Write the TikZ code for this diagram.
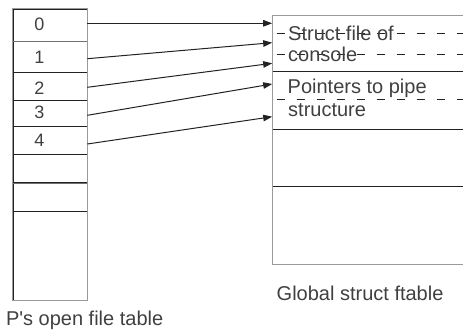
\documentclass[tikz,border=0pt]{standalone}
\usepackage{fontspec}
\setmainfont{Liberation Sans}
\newfontfamily\lfont{Liberation Sans}
\usetikzlibrary{arrows.meta}
\definecolor{txt}{HTML}{404040}
\definecolor{bord}{HTML}{9A9A9A}
\definecolor{sep}{HTML}{222222}
\definecolor{sepl}{HTML}{707070}
\begin{document}
\begin{tikzpicture}[x=1pt,y=-1pt,
  cellL/.style={draw=sep,line width=1pt,inner sep=0pt,minimum width=74pt},
  cellR/.style={draw=sep,line width=1pt,inner sep=0pt,minimum width=197.3pt},
  frame/.style={draw=bord,line width=1pt},
  digit/.style={anchor=base,inner sep=0pt,text=txt,font=\lfont\fontsize{18pt}{20pt}\selectfont},
  lbl/.style={anchor=base west,inner sep=0pt,text=txt,font=\lfont\fontsize{20pt}{22pt}\selectfont},
  dashline/.style={draw=sep,line width=1pt,dash pattern=on 8pt off 12pt,dash phase=16pt},
  ptr/.style={draw=sep,line width=1pt,-{Triangle[length=9pt,width=6.5pt]}}]
\useasboundingbox (0,0) rectangle (463,330);
\begin{scope}
\clip (0,0) rectangle (463,330);
% left table cells
\node[cellL,minimum height=32.3pt] (l0) at (50.3,25.15) {};
\node[cellL,minimum height=31.4pt] (l1) at (50.3,57.0) {};
\node[cellL,minimum height=28pt] (l2) at (50.3,86.7) {};
\node[cellL,minimum height=25.3pt] (l3) at (50.3,113.35) {};
\node[cellL,minimum height=28.3pt] (l4) at (50.3,140.15) {};
\node[cellL,minimum height=28.4pt] (l5) at (50.3,168.5) {};
\node[cellL,minimum height=28.3pt] (l6) at (50.3,196.85) {};
\node[cellL,minimum height=89pt] (l7) at (50.3,255.5) {};
\draw[sepl,line width=1pt] (l5.south west) -- (l5.south east);
\draw[sepl,line width=1pt] (l0.south west) -- (l0.south east);
\draw[frame] (l0.north west) rectangle (l7.south east);
% digits
\node[digit] (d0) at (39.3,30) {0};
\node[digit] (d1) at (39.3,63.3) {1};
\node[digit] (d2) at (39.3,94.3) {2};
\node[digit] (d3) at (39.3,118.3) {3};
\node[digit] (d4) at (39.3,146.7) {4};
% right table cells
\node[cellR,minimum height=56pt] (r0) at (371.35,43.7) {};
\node[cellR,minimum height=57.3pt] (r1) at (371.35,100.35) {};
\node[cellR,minimum height=57pt] (r2) at (371.35,157.5) {};
\node[cellR,minimum height=78.3pt] (r3) at (371.35,225.15) {};
\draw[frame] (r0.north east) -- (r0.north west) -- (r3.south west) -- (r3.south east);
% dashed lines
\coordinate (da1) at (272.7,33.3); \coordinate (db1) at (463,33.3);
\coordinate (da2) at (272.7,54.0); \coordinate (db2) at (463,54.0);
\coordinate (da3) at (272.7,99.3); \coordinate (db3) at (463,99.3);
\draw[dashline] (da1) -- (db1);
\draw[dashline] (da2) -- (db2);
\draw[dashline] (da3) -- (db3);
% pointers
\coordinate (s0) at (87.3,23.3); \coordinate (e0) at (272.2,23.3);
\coordinate (s1) at (87.3,58.7); \coordinate (e1) at (272.2,42.7);
\coordinate (s2) at (87.3,87.3); \coordinate (e2) at (272.2,63.3);
\coordinate (s3) at (87.3,115.3); \coordinate (e3) at (272.2,84);
\coordinate (s4) at (87.3,144); \coordinate (e4) at (272.2,116.7);
\draw[ptr] (s0) -- (e0);
\draw[ptr] (s1) -- (e1);
\draw[ptr] (s2) -- (e2);
\draw[ptr] (s3) -- (e3);
\draw[ptr] (s4) -- (e4);
\end{scope}
% texts in ftable
\node[lbl] (ta) at (288,40.7) {Struct file of};
\node[lbl] (tb) at (288,61.7) {console};
\node[lbl] (tc) at (287.5,93.3) {Pointers to pipe};
\node[lbl] (td) at (288,116.7) {structure};
% captions
\node[lbl] (capR) at (276.5,300.7) {Global struct ftable};
\node[lbl] (capL) at (5.8,325.6) {P's open file table};
\end{tikzpicture}
\end{document}
